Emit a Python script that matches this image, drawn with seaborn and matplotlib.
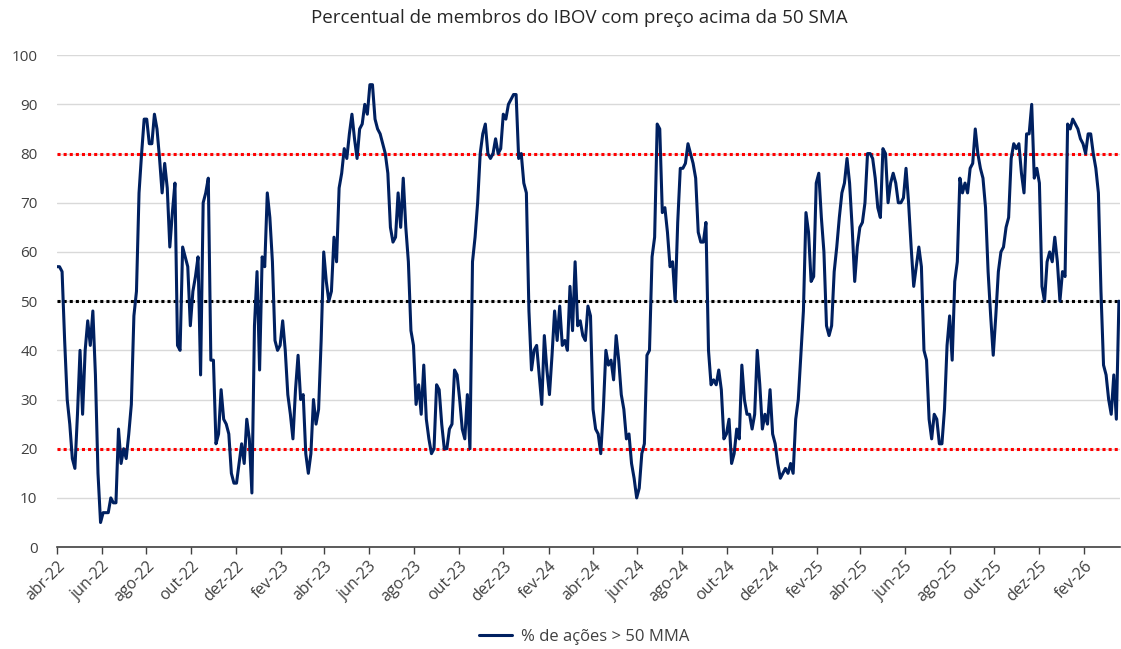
import matplotlib
matplotlib.use('Agg')
import matplotlib.pyplot as plt
import pandas as pd
import seaborn as sns

# share of IBOV members trading above their 50-day average (%), read twice a week
start_date = '2022-04-01'
pct_above = [
    57, 57, 56, 42, 30, 25, 18, 16, 27, 40, 27, 40, 46, 41, 48, 35, 15, 5, 7, 7,
    7, 10, 9, 9, 24, 17, 20, 18, 23, 29, 47, 52, 72, 80, 87, 87, 82, 82, 88, 85,
    79, 72, 78, 73, 61, 68, 74, 41, 40, 61, 59, 57, 45,
    52, 55, 59, 35, 70, 72, 75, 38, 38, 21, 23, 32, 26, 25, 23, 15, 13, 13, 17, 21,
    17, 26, 22, 11, 45, 56, 36, 59, 57, 72, 67, 58, 42, 40, 41, 46, 40, 31, 27, 22,
    32, 39, 30, 31, 19, 15, 19, 30, 25, 28, 42, 60,
    54, 50, 52, 63, 58, 73, 76, 81, 79, 84, 88, 83, 79, 85, 86, 90, 88, 94, 94, 87,
    85, 84, 82, 80, 76, 65, 62, 63, 72, 65, 75, 65, 58, 44, 41, 29, 33, 27, 37, 26,
    22, 19, 20, 33, 32, 25, 20, 20, 24, 25, 36, 35, 30,
    24, 22, 31, 20, 58, 63, 70, 80, 84, 86, 80, 79, 80, 83, 80, 81, 88, 87, 90, 91,
    92, 92, 79, 80, 74, 72, 48, 36, 40, 41, 35, 29, 43, 36, 31, 39, 48, 42, 49, 41,
    42, 40, 53, 44, 58, 45, 46, 43, 42, 49, 47,
    28, 24, 23, 19, 28, 40, 37, 38, 34, 43, 38, 31, 28, 22, 23, 17, 14, 10, 12, 19,
    21, 39, 40, 59, 63, 86, 85, 68, 69, 64, 57, 58, 50, 66, 77, 77, 78, 82, 80, 78,
    75, 64, 62, 62, 66, 40, 33, 34, 33, 36, 32, 22, 23,
    26, 17, 19, 24, 22, 37, 30, 27, 27, 24, 27, 40, 33, 24, 27, 25, 32, 23, 21, 17,
    14, 15, 16, 15, 17, 15, 26, 30, 39, 48, 68, 64, 54, 55, 74, 76, 67, 60, 45, 43,
    45, 56, 61, 67, 72, 74, 79, 74, 65, 54, 61, 65, 66,
    70, 80, 80, 79, 75, 69, 67, 81, 80, 70, 74, 76, 74, 70, 70, 71, 77, 70, 61, 53,
    57, 61, 57, 40, 38, 26, 22, 27, 26, 21, 21, 28, 41, 47, 38, 54, 58, 75, 72, 74,
    72, 77, 78, 85, 80, 77, 75, 69, 56, 47, 39, 47,
    56, 60, 61, 65, 67, 79, 82, 81, 82, 76, 72, 84, 84, 90, 75, 77, 74, 53, 50, 58,
    60, 58, 63, 58, 50, 56, 55, 86, 85, 87, 86, 85, 83, 82, 80, 84, 84, 80, 77, 72,
    52, 37, 35, 30, 27, 35, 26, 50,
]
upper_band = 80
mid_band = 50
lower_band = 20
tick_labels = ['abr-22', 'jun-22', 'ago-22', 'out-22', 'dez-22', 'fev-23', 'abr-23', 'jun-23',
               'ago-23', 'out-23', 'dez-23', 'fev-24', 'abr-24', 'jun-24', 'ago-24', 'out-24',
               'dez-24', 'fev-25', 'abr-25', 'jun-25', 'ago-25', 'out-25', 'dez-25', 'fev-26']

df = pd.DataFrame({
    'data': pd.date_range(start_date, periods=len(pct_above), freq='84h'),
    'pct': pct_above,
})
tick_dates = pd.date_range(start_date, periods=len(tick_labels), freq='2MS')

sns.set_style('white')
plt.rcParams['font.family'] = ['Open Sans', 'DejaVu Sans']

fig = plt.figure(figsize=(11.21, 6.49), dpi=100)
ax = fig.add_axes([0.0508, 0.157, 0.948, 0.758])

ax.set_axisbelow(True)
ax.grid(axis='y', color='#d9d9d9', linewidth=1)

ax.axhline(upper_band, color='#ff0000', linestyle=(0, (1, 1)), linewidth=2.2, zorder=2)
ax.axhline(lower_band, color='#ff0000', linestyle=(0, (1, 1)), linewidth=2.2, zorder=2)
ax.axhline(mid_band, color='black', linestyle=(0, (1, 1)), linewidth=2.2, zorder=2)

sns.lineplot(data=df, x='data', y='pct', ax=ax, color='#002060', linewidth=2.2,
             label='% de ações > 50 MMA', zorder=3)

ax.set_ylim(0, 100)
ax.set_yticks(range(0, 101, 10))
ax.set_xlim(df['data'].iloc[0], df['data'].iloc[-1] + pd.Timedelta(days=1))
ax.set_xticks(tick_dates)
ax.set_xticklabels(tick_labels, rotation=45, ha='right', rotation_mode='anchor')
ax.tick_params(axis='x', length=5, width=1, color='#404040', labelsize=11.5,
               labelcolor='#404040', direction='out', bottom=True, pad=3)
ax.tick_params(axis='y', length=0, labelsize=11, labelcolor='#404040', pad=14)
ax.set_xlabel('')
ax.set_ylabel('')

for side in ['left', 'right', 'top']:
    ax.spines[side].set_visible(False)
ax.spines['bottom'].set_color('#404040')
ax.spines['bottom'].set_linewidth(1.2)

fig.text(0.517, 0.972, 'Percentual de membros do IBOV com preço acima da 50 SMA',
         fontsize=13.5, color='#262626', ha='center', va='center')

ax.legend(loc='center', bbox_to_anchor=(0.521, 0.0185), bbox_transform=fig.transFigure,
          frameon=False, fontsize=12, handlelength=2.0, handletextpad=0.5, labelcolor='#404040')

plt.savefig('out.png', dpi=100)
